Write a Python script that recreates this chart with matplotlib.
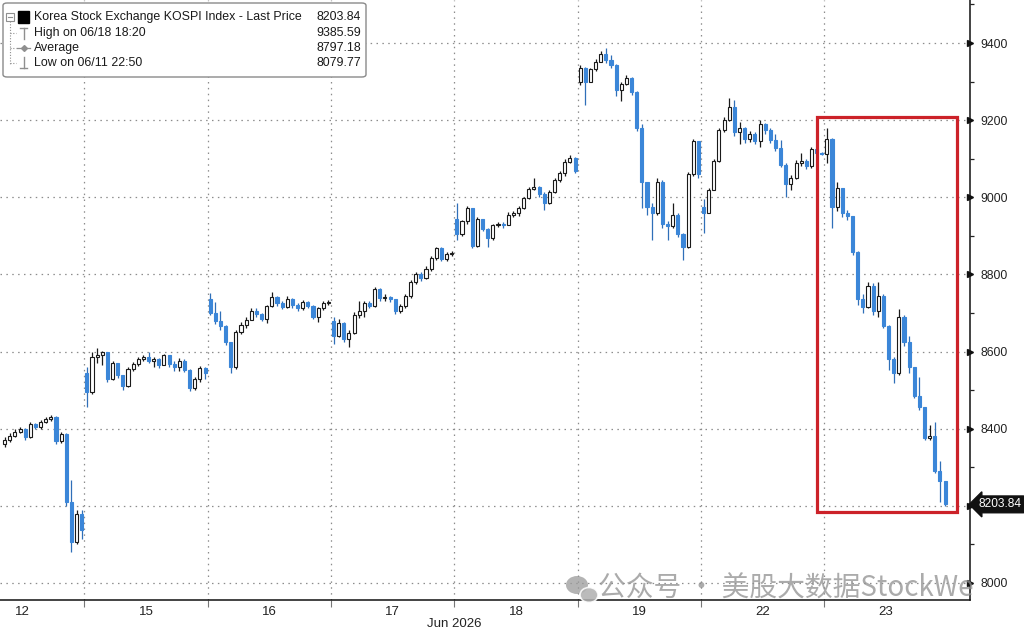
import matplotlib
matplotlib.use("Agg")
import matplotlib.pyplot as plt
import matplotlib.transforms as mtransforms
from matplotlib.patches import Rectangle, FancyBboxPatch, Ellipse
from matplotlib.lines import Line2D

W, H = 1024, 632

# ---------------- data ----------------
day_labels = ["12", "15", "16", "17", "18", "19", "22", "23"]
first_slot = [8, 0, 0, 0, 0, 0, 0, 0]          # day 12 is only partly visible
day_opens = [8360, 8545, 8735, 8680, 8945, 9298, 8975, 9112]

c12 = [8370, 8380, 8392, 8400, 8378, 8412, 8405, 8418, 8425, 8430, 8368, 8385, 8210, 8105, 8180, 8137]
h12 = [8378, 8390, 8400, 8405, 8402, 8418, 8416, 8422, 8430, 8436, 8432, 8392, 8388, 8267, 8190, 8190]
l12 = [8352, 8366, 8378, 8388, 8372, 8375, 8398, 8400, 8415, 8420, 8360, 8362, 8200, 8080, 8100, 8115]

c15 = [8495, 8585, 8590, 8598, 8530, 8570, 8540, 8510, 8555, 8568, 8582, 8586,
       8575, 8580, 8565, 8590, 8568, 8560, 8575, 8552, 8505, 8528, 8558, 8545]
h15 = [8560, 8600, 8608, 8602, 8600, 8575, 8568, 8540, 8560, 8572, 8586, 8592,
       8598, 8585, 8584, 8594, 8592, 8575, 8584, 8580, 8556, 8535, 8562, 8560]
l15 = [8455, 8490, 8570, 8565, 8522, 8525, 8532, 8500, 8508, 8550, 8562, 8576,
       8570, 8560, 8558, 8570, 8560, 8550, 8550, 8548, 8498, 8500, 8522, 8530]

c16 = [8700, 8680, 8665, 8625, 8560, 8650, 8668, 8682, 8705, 8698, 8685, 8718,
       8742, 8725, 8716, 8735, 8720, 8712, 8728, 8718, 8690, 8712, 8726, 8729]
h16 = [8752, 8728, 8705, 8670, 8605, 8655, 8676, 8690, 8712, 8712, 8700, 8722,
       8754, 8745, 8730, 8745, 8738, 8726, 8734, 8732, 8720, 8716, 8730, 8733]
l16 = [8695, 8672, 8655, 8618, 8545, 8556, 8645, 8660, 8690, 8690, 8678, 8674,
       8715, 8718, 8710, 8712, 8712, 8705, 8708, 8714, 8685, 8676, 8708, 8722]

c17 = [8640, 8675, 8632, 8648, 8695, 8705, 8725, 8718, 8762, 8738, 8742, 8735,
       8705, 8718, 8745, 8780, 8800, 8792, 8815, 8842, 8868, 8840, 8852, 8856]
h17 = [8690, 8684, 8676, 8656, 8702, 8730, 8732, 8730, 8768, 8765, 8748, 8745,
       8736, 8724, 8750, 8786, 8806, 8806, 8822, 8848, 8872, 8870, 8858, 8860]
l17 = [8620, 8638, 8625, 8612, 8646, 8688, 8690, 8712, 8716, 8730, 8732, 8728,
       8698, 8700, 8714, 8740, 8775, 8782, 8788, 8810, 8838, 8835, 8836, 8848]

c18 = [8905, 8938, 8972, 8875, 8945, 8918, 8895, 8928, 8930, 8928, 8955, 8958,
       8972, 8998, 9022, 9027, 9008, 8985, 9015, 9045, 9062, 9092, 9102, 9068]
h18 = [8985, 8942, 8978, 8970, 8950, 8945, 8920, 8932, 8937, 8936, 8962, 8964,
       8978, 9002, 9026, 9050, 9030, 9015, 9020, 9050, 9068, 9098, 9110, 9104]
l18 = [8888, 8900, 8930, 8868, 8872, 8912, 8870, 8890, 8922, 8920, 8930, 8948,
       8952, 8970, 8995, 9018, 9002, 8967, 8982, 9010, 9040, 9056, 9088, 9062]

c19 = [9335, 9300, 9332, 9352, 9372, 9355, 9342, 9278, 9295, 9310, 9272, 9180,
       9040, 8975, 8960, 9040, 8930, 8925, 8955, 8905, 8870, 9060, 9145, 9060]
h19 = [9342, 9338, 9336, 9358, 9378, 9386, 9368, 9345, 9300, 9316, 9312, 9275,
       9190, 9015, 8985, 9050, 9045, 8938, 8985, 8960, 8908, 9065, 9150, 9145]
l19 = [9290, 9240, 9298, 9328, 9350, 9348, 9336, 9262, 9250, 9290, 9265, 9172,
       8972, 8955, 8889, 8955, 8920, 8889, 8920, 8898, 8838, 8868, 9055, 9050]

c22 = [8960, 9020, 9095, 9175, 9200, 9235, 9170, 9180, 9150, 9165, 9145, 9190,
       9175, 9148, 9128, 9085, 9035, 9050, 9090, 9095, 9080, 9125, 9115, 9113]
h22 = [8995, 9025, 9100, 9180, 9208, 9258, 9252, 9195, 9182, 9172, 9168, 9200,
       9192, 9180, 9165, 9148, 9088, 9058, 9096, 9115, 9098, 9130, 9130, 9118]
l22 = [8907, 8958, 9018, 9092, 9170, 9198, 9160, 9138, 9140, 9143, 9138, 9130,
       9165, 9140, 9120, 9078, 9001, 9018, 9048, 9082, 9074, 9075, 9110, 9110]

c23 = [9150, 8975, 9025, 8960, 8952, 8858, 8735, 8715, 8770, 8705, 8745, 8665,
       8580, 8545, 8690, 8625, 8560, 8485, 8455, 8375, 8380, 8290, 8265, 8203.84]
h23 = [9180, 9154, 9040, 9015, 8968, 8950, 8860, 8750, 8780, 8778, 8780, 8748,
       8668, 8585, 8710, 8695, 8640, 8560, 8535, 8455, 8410, 8417, 8315, 8250]
l23 = [9090, 8920, 8965, 8950, 8940, 8850, 8720, 8700, 8712, 8695, 8690, 8660,
       8552, 8518, 8540, 8615, 8545, 8480, 8448, 8370, 8370, 8285, 8210, 8200]

closes = [c12, c15, c16, c17, c18, c19, c22, c23]
highs = [h12, h15, h16, h17, h18, h19, h22, h23]
lows = [l12, l15, l16, l17, l18, l19, l22, l23]

y_ticks = [8000, 8200, 8400, 8600, 8800, 9000, 9200, 9400]
y_tick_labels = ["8000", "", "8400", "8600", "8800", "9000", "9200", "9400"]  # 8200 hidden by tag
legend_rows = [("Korea Stock Exchange KOSPI Index - Last Price", "8203.84"),
               ("High on 06/18 18:20", "9385.59"),
               ("Average", "8797.18"),
               ("Low on 06/11 22:50", "8079.77")]
last_price = 8203.84
month_label = "Jun 2026"
watermark = "公众号 · 美股大数据StockWe"

# ---------------- figure ----------------
fig = plt.figure(figsize=(W / 100, H / 100), dpi=100)
ax = fig.add_axes([0, 32 / H, 970 / W, 600 / H])
SLOTS = 24

xs, os_, hs, ls, cs = [], [], [], [], []
for d in range(len(day_labels)):
    for k, (c, h, l) in enumerate(zip(closes[d], highs[d], lows[d])):
        o = day_opens[d] if k == 0 else closes[d][k - 1]
        xs.append(d * SLOTS + first_slot[d] + k + 0.5)
        os_.append(o); hs.append(h); ls.append(l); cs.append(c)

BLUE = "#3b86d8"
for x, o, h, l, c in zip(xs, os_, hs, ls, cs):
    up = c >= o
    wick = "#1a1a1a" if up else "#2f6fb8"
    ax.vlines(x, l, h, color=wick, lw=0.9, zorder=3)
    bottom = min(o, c)
    height = max(abs(c - o), 2.0)
    if up:
        ax.bar(x, height, bottom=bottom, width=0.6, facecolor="white",
               edgecolor="#1a1a1a", linewidth=0.8, zorder=4)
    else:
        ax.bar(x, height, bottom=bottom, width=0.6, facecolor=BLUE,
               edgecolor=BLUE, linewidth=0.8, zorder=4)

# axes limits (pixel-calibrated)
ax.set_xlim(7.6, 196.35)
ax.set_ylim(7955.9, 9511.5)

# grid
grid_kw = dict(color="#8c8c8c", lw=0.9, ls=(0, (1.2, 3.5)), zorder=1)
for yv in y_ticks:
    ax.axhline(yv, **grid_kw)
for d in range(1, len(day_labels)):
    ax.axvline(d * SLOTS, **grid_kw)

# spines
for s in ["left", "top"]:
    ax.spines[s].set_visible(False)
ax.spines["right"].set_color("#111")
ax.spines["bottom"].set_color("#111")
ax.spines["right"].set_linewidth(1.1)
ax.spines["bottom"].set_linewidth(1.1)

# y axis on right with triangle tick markers
ax.yaxis.tick_right()
ax.set_yticks(y_ticks)
ax.set_yticklabels(y_tick_labels)
ax.set_yticks([v + 100 for v in y_ticks[:-1]] + [9500], minor=True)
ax.tick_params(axis="y", which="major", length=0, pad=7.5, labelsize=8.8,
               labelcolor="#222")
ax.tick_params(axis="y", which="minor", length=3, width=0.9, color="#222")
for lab in ax.get_yticklabels():
    lab.set_fontfamily(["Liberation Sans", "DejaVu Sans"])
tr_y = mtransforms.blended_transform_factory(ax.transAxes, ax.transData)
ax.plot([1.0] * len(y_ticks), y_ticks, marker=">", ms=5, color="#111",
        ls="none", transform=tr_y, clip_on=False, zorder=6)

# x axis: boundaries ticks + centered day labels
ax.set_xticks([d * SLOTS for d in range(1, len(day_labels))])
ax.set_xticklabels([])
ax.tick_params(axis="x", which="major", length=5, width=0.8, color="#777",
               direction="out")
ax.set_xticks([d * SLOTS + 12 for d in range(len(day_labels))], minor=True)
ax.set_xticklabels(day_labels, minor=True)
ax.tick_params(axis="x", which="minor", length=0, pad=4.5, labelsize=9.5,
               labelcolor="#222")
for lab in ax.get_xticklabels(minor=True):
    lab.set_fontfamily(["Liberation Sans Narrow", "Liberation Sans", "DejaVu Sans"])
tr_x = mtransforms.blended_transform_factory(ax.transData, fig.transFigure)
ax.text(4 * SLOTS, 1 - 624 / H, month_label, transform=tr_x, ha="center",
        va="center", fontsize=9.5, color="#222",
        family=["Liberation Sans Narrow", "Liberation Sans", "DejaVu Sans"])

# last price tag
ax.annotate(f"{last_price:.2f}", xy=(1.0, last_price), xycoords=tr_y,
            xytext=(6, 0), textcoords="offset points", ha="left", va="center",
            fontsize=8.6, color="white", family=["Liberation Sans", "DejaVu Sans"],
            bbox=dict(boxstyle="larrow,pad=0.2", fc="#111", ec="#111"),
            annotation_clip=False, zorder=8)

# red highlight rectangle
ax.add_patch(Rectangle((166.57, 8184.1), 193.81 - 166.57, 9208.3 - 8184.1,
                       fill=False, ec="#cc2229", lw=2.3, zorder=7, clip_on=False))

# ---------------- legend box ----------------
def fx(x): return x / W
def fy(y): return 1 - y / H

fig.add_artist(FancyBboxPatch((fx(3), fy(77)), fx(363), 74 / H,
                              boxstyle="round,pad=0,rounding_size=0.004",
                              transform=fig.transFigure, fc="white",
                              ec="#8a8a8a", lw=1.0, zorder=10))
row_y = [17, 33, 48, 63]
gray = "#8f8f8f"
# tree lines
fig.add_artist(Line2D([fx(10), fx(10)], [fy(21), fy(64)], color=gray, lw=0.8,
                      ls=(0, (1, 1.5)), transform=fig.transFigure, zorder=11))
for yy in row_y[1:]:
    fig.add_artist(Line2D([fx(10), fx(16)], [fy(yy), fy(yy)], color=gray, lw=0.8,
                          ls=(0, (1, 1.5)), transform=fig.transFigure, zorder=11))
# collapse box
fig.add_artist(Rectangle((fx(6), fy(21)), 8 / W, 8 / H, fill=False, ec=gray,
                         lw=0.8, transform=fig.transFigure, zorder=11))
fig.add_artist(Line2D([fx(8), fx(12)], [fy(17), fy(17)], color=gray, lw=0.8,
                      transform=fig.transFigure, zorder=11))
# black square for the series
fig.add_artist(Rectangle((fx(18), fy(23)), 11 / W, 12 / H, fc="black", ec="black",
                         transform=fig.transFigure, zorder=11))
# high symbol  (T)
fig.add_artist(Line2D([fx(20), fx(27)], [fy(28), fy(28)], color=gray, lw=1.0,
                      transform=fig.transFigure, zorder=11))
fig.add_artist(Line2D([fx(23.5), fx(23.5)], [fy(28), fy(39)], color=gray, lw=1.0,
                      transform=fig.transFigure, zorder=11))
# average symbol
fig.add_artist(Line2D([fx(17), fx(30)], [fy(48), fy(48)], color=gray, lw=0.9,
                      transform=fig.transFigure, zorder=11))
fig.add_artist(Line2D([fx(23.5)], [fy(48)], color=gray, marker="D", ms=3,
                      transform=fig.transFigure, zorder=11))
# low symbol (⊥)
fig.add_artist(Line2D([fx(23.5), fx(23.5)], [fy(57), fy(68)], color=gray, lw=1.0,
                      transform=fig.transFigure, zorder=11))
fig.add_artist(Line2D([fx(20), fx(27)], [fy(68), fy(68)], color=gray, lw=1.0,
                      transform=fig.transFigure, zorder=11))

leg_font = ["Liberation Sans", "DejaVu Sans"]
for (name, val), yy in zip(legend_rows, row_y):
    fig.text(fx(34), fy(yy), name, ha="left", va="center", fontsize=8.9,
             color="#1a1a1a", family=leg_font, zorder=12)
    fig.text(fx(361), fy(yy), val, ha="right", va="center", fontsize=8.9,
             color="#1a1a1a", family=leg_font, zorder=12)

# ---------------- watermark ----------------
fig.add_artist(Ellipse((fx(577), fy(585)), 22 / W, 18 / H, fc="#9a9a9a",
                       ec="none", alpha=0.75, transform=fig.transFigure, zorder=12))
fig.add_artist(Ellipse((fx(589), fy(595)), 18 / W, 15 / H, fc="#b0b0b0",
                       ec="white", lw=1.2, alpha=0.85, transform=fig.transFigure,
                       zorder=13))
fig.text(fx(598), fy(589), watermark, ha="left", va="center", fontsize=20,
         color="#8f8f8f", alpha=0.75,
         family=["Noto Sans CJK SC", "DejaVu Sans"], zorder=12)

fig.savefig("out.png", dpi=100)
